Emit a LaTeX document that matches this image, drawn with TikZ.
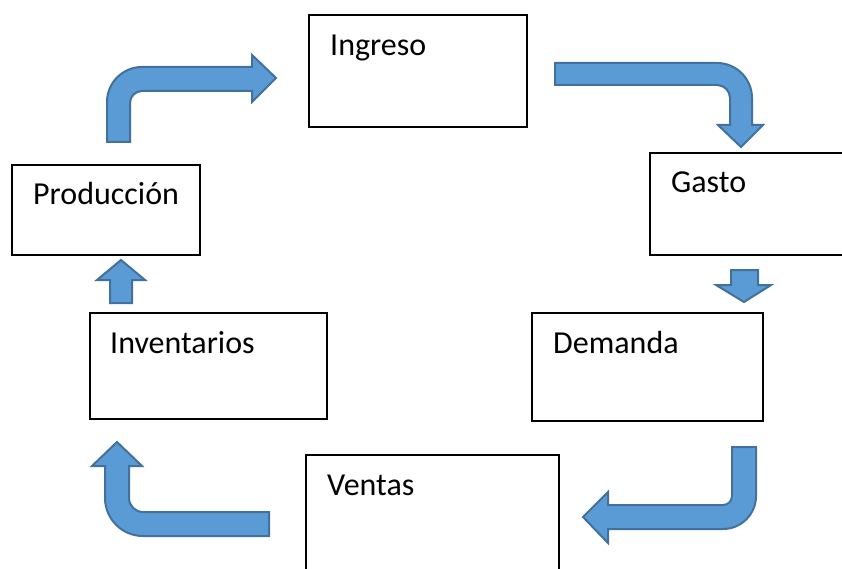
\documentclass[tikz,border=0pt]{standalone}
\usepackage{fontspec}
\setmainfont{Carlito}
\definecolor{azul}{HTML}{5B9BD5}
\definecolor{borde}{HTML}{41719C}
\begin{document}
\begin{tikzpicture}[x=1pt,y=-1pt,
caja/.style={draw,line width=1.2pt,inner sep=0pt,outer sep=0pt},
texto/.style={anchor=base west,inner sep=0pt,font=\fontsize{32}{38}\selectfont},
flecha/.style={fill=azul,draw=borde,line width=2pt,line join=miter}]
\useasboundingbox (0,0) rectangle (842,569);
\clip (0,0) rectangle (842,569);
% cajas
\node[caja,minimum width=218,minimum height=112] (ingreso) at (418,71) {};
\node[caja,minimum width=220,minimum height=102] (gasto) at (760,204) {};
\node[caja,minimum width=231,minimum height=108] (demanda) at (647.5,367) {};
\node[caja,minimum width=253,minimum height=145] (ventas) at (432.5,527.5) {};
\node[caja,minimum width=237,minimum height=106] (inventarios) at (208.5,366) {};
\node[caja,minimum width=188,minimum height=90] (produccion) at (106,210) {};
\node[texto] (t-ingreso) at (330,56) {Ingreso};
\node[texto] (t-gasto) at (671,193) {Gasto};
\node[texto] (t-demanda) at (553,353) {Demanda};
\node[texto] (t-ventas) at (327,495) {Ventas};
\node[texto] (t-inventarios) at (110,353) {Inventarios};
\node[texto] (t-produccion) at (33,205) {Producción};
% flechas
\draw[flecha] (107,142) -- (107,102) arc(180:270:35) -- (252,67) -- (252,55)
-- (276,78) -- (252,102) -- (252,91) -- (142,91) arc(270:180:12) -- (130,142) -- cycle;
\draw[flecha] (555,63) -- (717,63) arc(270:360:35) -- (752,125) -- (763,125)
-- (741,147) -- (718,125) -- (730,125) -- (730,98) arc(0:-90:13) -- (555,85) -- cycle;
\draw[flecha] (731,270) -- (758,270) -- (758,285) -- (771,285) -- (744,302)
-- (716,285) -- (731,285) -- cycle;
\draw[flecha] (732,447) -- (756,447) -- (756,496) arc(0:90:33) -- (608,529) -- (608,543)
-- (583,517) -- (608,492) -- (608,505) -- (723,505) arc(90:0:9) -- cycle;
\draw[flecha] (269,512) -- (143,512) arc(90:180:14) -- (129,466) -- (142,466)
-- (117,442) -- (92,466) -- (105,466) -- (105,498) arc(180:90:38) -- (269,536) -- cycle;
\draw[flecha] (110,303) -- (110,280) -- (97,280) -- (121,260) -- (145,280)
-- (132,280) -- (132,303) -- cycle;
\end{tikzpicture}
\end{document}
